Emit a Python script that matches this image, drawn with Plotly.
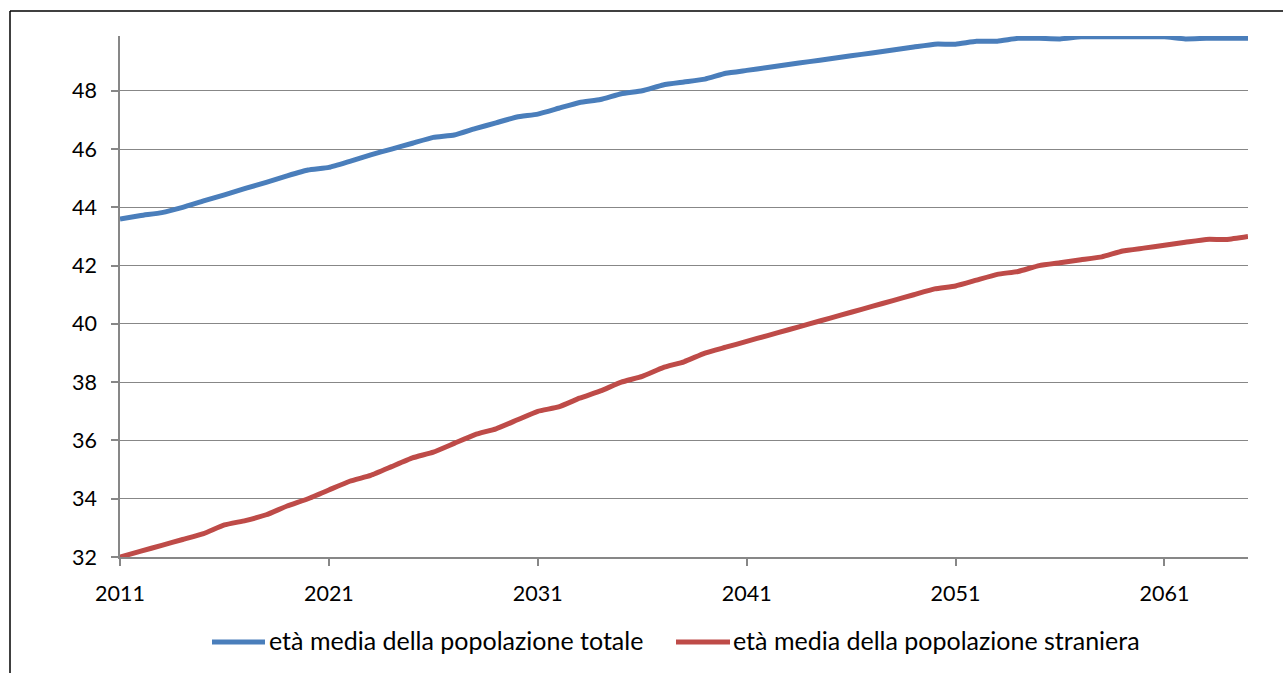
import plotly.graph_objects as go

years = list(range(2011, 2066))

eta_totale = [
    43.6, 43.72, 43.82, 44.0, 44.22, 44.43, 44.65, 44.86, 45.08, 45.28,
    45.37, 45.58, 45.8, 46.0, 46.2, 46.4, 46.48, 46.7, 46.9, 47.1,
    47.2, 47.4, 47.6, 47.7, 47.9, 48.0, 48.2, 48.3, 48.4, 48.6,
    48.7, 48.8, 48.9, 49.0, 49.1, 49.2, 49.3, 49.4, 49.5, 49.6,
    49.6, 49.7, 49.7, 49.8, 49.8, 49.78, 49.85, 49.85, 49.85, 49.85,
    49.85, 49.78, 49.8, 49.8, 49.8,
]

eta_straniera = [
    32.0, 32.2, 32.4, 32.6, 32.8, 33.1, 33.25, 33.45, 33.75, 34.0,
    34.3, 34.6, 34.8, 35.1, 35.4, 35.6, 35.9, 36.2, 36.4, 36.7,
    37.0, 37.15, 37.45, 37.7, 38.0, 38.2, 38.5, 38.7, 39.0, 39.2,
    39.4, 39.6, 39.8, 40.0, 40.2, 40.4, 40.6, 40.8, 41.0, 41.2,
    41.3, 41.5, 41.7, 41.8, 42.0, 42.1, 42.2, 42.3, 42.5, 42.6,
    42.7, 42.8, 42.9, 42.9, 43.0,
]

series_names = ["età media della popolazione totale", "età media della popolazione straniera"]
series_colors = ["#4A7EBB", "#BE4B48"]

y_ticks = list(range(32, 49, 2))
x_ticks = list(range(2011, 2062, 10))

FONT = "Lato"
GRID = "#878787"

W, H = 1283, 673
L, R, T, B = 120, 35, 36, 116
PW, PH = W - L - R, H - T - B


def px(x):
    return (x - L) / PW


def py(y):
    return (H - B - y) / PH


fig = go.Figure()
for name, vals, col in zip(series_names, [eta_totale, eta_straniera], series_colors):
    fig.add_trace(go.Scatter(
        x=years, y=vals, mode="lines", name=name,
        line=dict(color=col, width=5, shape="spline", smoothing=0.4),
        showlegend=False, cliponaxis=False,
    ))

shapes = [
    # outer chart frame (top and left edges visible)
    dict(type="line", xref="paper", yref="paper", x0=px(10), x1=px(1300), y0=py(11), y1=py(11),
         line=dict(color="#000000", width=1.5)),
    dict(type="line", xref="paper", yref="paper", x0=px(10), x1=px(10), y0=py(11), y1=py(700),
         line=dict(color="#000000", width=1.5)),
]

# manual legend
leg_items = [(212, 265, 269), (676, 730, 733)]
annotations = []
for (x0, x1, tx), name, col in zip(leg_items, series_names, series_colors):
    shapes.append(dict(type="line", xref="paper", yref="paper", x0=px(x0), x1=px(x1),
                       y0=py(642), y1=py(642), line=dict(color=col, width=5)))
    annotations.append(dict(xref="paper", yref="paper", x=px(tx), y=py(640), text=name,
                            showarrow=False, xanchor="left", yanchor="middle",
                            xshift=-2,
                            font=dict(family=FONT, size=25, color="#000000")))

fig.update_layout(
    width=W, height=H,
    margin=dict(l=L, r=R, t=T, b=B, pad=0),
    paper_bgcolor="white", plot_bgcolor="white",
    font=dict(family=FONT, size=21, color="#000000"),
    showlegend=False,
    shapes=shapes, annotations=annotations,
)
fig.update_xaxes(
    range=[2011, 2065], tickvals=x_ticks, ticktext=[str(v) for v in x_ticks],
    showgrid=False, zeroline=False,
    showline=True, linecolor=GRID, linewidth=1.5,
    ticks="outside", ticklen=7, tickcolor=GRID, tickwidth=1.5,
    ticklabelstandoff=9,
    tickfont=dict(family=FONT, size=21.5, color="#000000"),
)
fig.update_yaxes(
    range=[32, 49.88], tickvals=y_ticks, ticktext=[str(v) for v in y_ticks],
    showgrid=True, gridcolor=GRID, gridwidth=1.3, zeroline=False,
    showline=True, linecolor=GRID, linewidth=1.5,
    ticks="outside", ticklen=7, tickcolor=GRID, tickwidth=1.5,
    ticklabelstandoff=10,
    tickfont=dict(family=FONT, size=21.5, color="#000000"),
)

fig.write_html("out.html")
